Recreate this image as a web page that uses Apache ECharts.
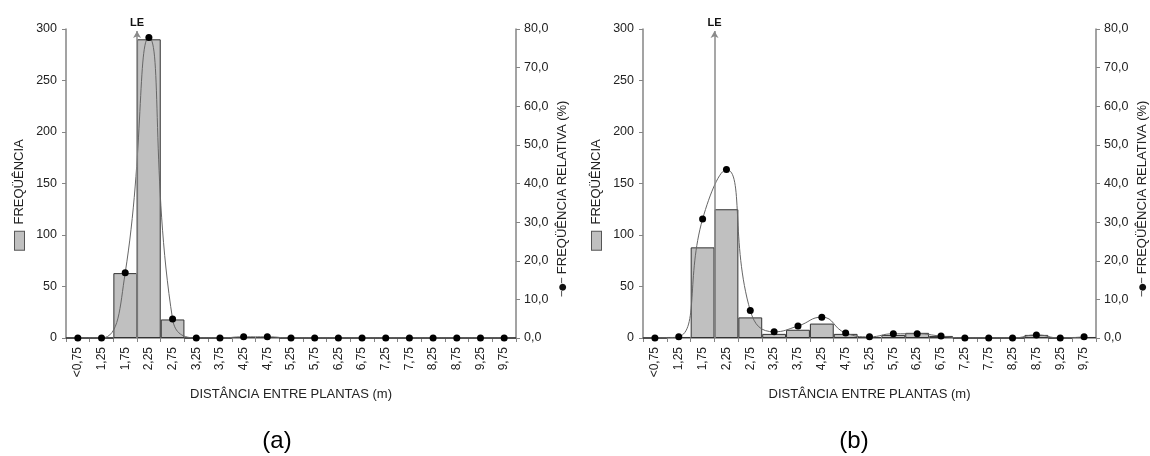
<!DOCTYPE html>
<html>
<head>
<meta charset="utf-8">
<script src="https://cdn.jsdelivr.net/npm/echarts@6/dist/echarts.min.js"></script>
<style>
html,body{margin:0;padding:0;background:#fff;}
#chart{width:1150px;height:456px;}
</style>
</head>
<body>
<div id="chart"></div>
<script>
// ---- data ----
const categories = ['<0,75','1,25','1,75','2,25','2,75','3,25','3,75','4,25','4,75','5,25','5,75','6,25','6,75','7,25','7,75','8,25','8,75','9,25','9,75'];
const freqA = [0,0,63,290,18,0,0,1,1,0,0,0,0,0,0,0,0,0,0];
const relA  = [0,0,16.9,77.8,4.9,0,0,0.3,0.3,0,0,0,0,0,0,0,0,0,0];
const freqB = [0,1,88,125,20,4,8,14,4,1,3,5,2,0,0,0,3,0,1];
const relB  = [0,0.3,30.8,43.6,7.1,1.6,3.1,5.4,1.3,0.3,1.1,1.1,0.5,0,0,0,0.8,0,0.3];
const freqTicks = [0,300,50];
const relTicks = [0,80,10];
const lePosition = 2.0;   // m (limite entre classes 1,75 e 2,25)
const leTop = 298;
const distRange = [0.5, 10.0];
const panelLabels = ['(a)','(b)'];

// ---- styling ----
const FONT = 'Liberation Sans, Arial, sans-serif';
const txt = '#222';
const axisCol = '#858585';
const chart = echarts.init(document.getElementById('chart'), null, {renderer:'canvas'});

function catAxis(grid){
  return {
    type:'category', gridIndex:grid, data:categories, boundaryGap:true,
    axisLine:{lineStyle:{color:axisCol,width:1.5}},
    axisTick:{show:true,length:4,lineStyle:{color:axisCol}},
    axisLabel:{rotate:90,interval:0,margin:9,color:txt,fontFamily:FONT,fontSize:12},
    name:'DISTÂNCIA ENTRE PLANTAS (m)', nameLocation:'middle', nameGap:50,
    nameTextStyle:{color:txt,fontFamily:FONT,fontSize:13}
  };
}
function valXAxis(grid){
  return {type:'value',gridIndex:grid,min:distRange[0],max:distRange[1],show:false};
}
function freqAxis(grid){
  return {
    type:'value', gridIndex:grid, position:'left',
    min:freqTicks[0], max:freqTicks[1], interval:freqTicks[2],
    splitLine:{show:false},
    axisLine:{show:true,lineStyle:{color:axisCol,width:1.5}},
    axisTick:{show:true,length:4,lineStyle:{color:axisCol}},
    axisLabel:{color:txt,fontFamily:FONT,fontSize:12.5,margin:9},
    name:'{box|}  FREQÜÊNCIA', nameLocation:'middle', nameRotate:90, nameGap:40,
    nameTextStyle:{color:txt,fontFamily:FONT,fontSize:13,padding:[0,22,0,0],
      rich:{box:{width:18,height:9,backgroundColor:'#c0c0c0',borderColor:'#555',borderWidth:1}}}
  };
}
function relAxis(grid){
  return {
    type:'value', gridIndex:grid, position:'right',
    min:relTicks[0], max:relTicks[1], interval:relTicks[2],
    splitLine:{show:false},
    axisLine:{show:true,lineStyle:{color:axisCol,width:1.5}},
    axisTick:{show:true,length:4,lineStyle:{color:axisCol}},
    axisLabel:{color:txt,fontFamily:FONT,fontSize:12.5,margin:8,
      formatter:v=>v.toFixed(1).replace('.',',')},
    name:'{sym|─●─} FREQÜÊNCIA RELATIVA (%)', nameLocation:'middle', nameRotate:90, nameGap:40,
    nameTextStyle:{color:txt,fontFamily:FONT,fontSize:13,padding:[0,30,0,0],
      rich:{sym:{fontSize:9,color:'#111',fontFamily:'DejaVu Sans'}}}
  };
}
function barSeries(x,y,data){
  return {type:'bar',xAxisIndex:x,yAxisIndex:y,data:data,barCategoryGap:'0%',
    itemStyle:{color:'#c0c0c0',borderColor:'#333',borderWidth:1},z:2};
}
function lineSeries(x,y,data){
  return {type:'line',xAxisIndex:x,yAxisIndex:y,data:data,smooth:0.5,
    symbol:'circle',symbolSize:7,itemStyle:{color:'#000'},
    lineStyle:{color:'#666',width:1},z:4};
}
function leSeries(x,y){
  return {type:'line',xAxisIndex:x,yAxisIndex:y,data:[[lePosition,0]],showSymbol:false,
    lineStyle:{opacity:0},silent:true,z:3,
    markLine:{silent:true,symbol:['none','arrow'],symbolSize:[6,7],
      lineStyle:{color:'#8a8a8a',width:1.5,type:'solid'},
      label:{show:true,position:'end',formatter:'LE',color:'#111',fontFamily:FONT,fontSize:11,fontWeight:'bold',distance:3},
      data:[[{coord:[lePosition,0]},{coord:[lePosition,leTop]}]]}};
}

const option = {
  animation:false,
  backgroundColor:'#fff',
  title:[
    {text:panelLabels[0],left:272,top:424,textAlign:'center',textStyle:{fontFamily:FONT,fontSize:24,fontWeight:'normal',color:'#000'}},
    {text:panelLabels[1],left:849,top:424,textAlign:'center',textStyle:{fontFamily:FONT,fontSize:24,fontWeight:'normal',color:'#000'}}
  ],
  grid:[
    {left:66,right:634,top:29,bottom:118},
    {left:643,right:54,top:29,bottom:118}
  ],
  xAxis:[catAxis(0),catAxis(1),valXAxis(0),valXAxis(1)],
  yAxis:[freqAxis(0),relAxis(0),freqAxis(1),relAxis(1)],
  series:[
    barSeries(0,0,freqA), lineSeries(0,1,relA), leSeries(2,0),
    barSeries(1,2,freqB), lineSeries(1,3,relB), leSeries(3,2)
  ]
};
chart.setOption(option);
</script>
</body>
</html>
